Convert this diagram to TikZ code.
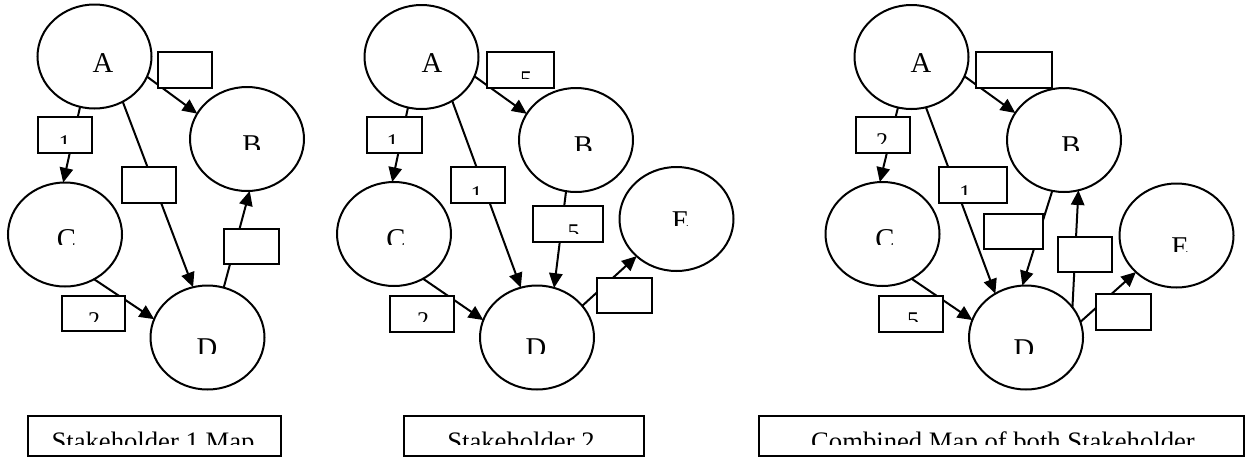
\documentclass[tikz,border=0pt]{standalone}
\usepackage{fontspec}
\setmainfont{Liberation Serif}
\usetikzlibrary{shapes.geometric,arrows.meta,fit}

\tikzset{
  px/.style={x=0.75pt,y=-0.75pt},
  stake/.style={ellipse,draw,line width=1.5pt,fill=white,minimum width=85.5pt,
    minimum height=78pt,inner sep=0pt,outer sep=0pt},
  wbox/.style={draw,line width=1.5pt,fill=white,inner sep=0pt,outer sep=0pt},
  link/.style={line width=1.5pt,-{Triangle[length=11pt,width=10pt]}},
  cut/.style={anchor=base,inner sep=0pt,outer sep=0pt},
  lettertxt/.style={font=\fontsize{21.5}{22}\selectfont},
  digittxt/.style={font=\fontsize{18}{18}\selectfont},
  titletxt/.style={font=\fontsize{20}{20}\selectfont},
}

% text whose lower part is cut off by a horizontal line
% #1 style, #2 name, #3 x, #4 baseline, #5 cut line, #6 text
\newcommand\cuttext[6]{%
  \begin{scope}
    \clip (#3-300,#4-40) rectangle (#3+300,#5);
    \node[cut,#1] (#2) at (#3,#4) {#6};
  \end{scope}}

\begin{document}
\begin{tikzpicture}[px]
\useasboundingbox (0,0) rectangle (1252,457);

% ---------- Stakeholder 1 ----------
\node[stake] (A1) at (94.5,56.5) {};
\node[stake] (B1) at (247,139) {};
\node[stake] (C1) at (65,234.5) {};
\node[stake] (D1) at (207.5,337.5) {};
\draw[link] (A1.-106) -- (C1.92);
\draw[link] (A1.-21) -- (B1.153);
\draw[link] (A1.-58) -- (D1.106);
\draw[link] (C1.-57) -- (D1.161);
\draw[link] (D1.72) -- (B1.-87);
\node[wbox,fit={(158,52) (212,88)}] (ab1) {};
\node[wbox,fit={(38,117) (92,153)}] (ac1) {};
\node[wbox,fit={(122,167) (176,203)}] (ad1) {};
\node[wbox,fit={(224,229) (279,264)}] (db1) {};
\node[wbox,fit={(62,296) (125,331)}] (cd1) {};
\node[wbox,fit={(28,416) (281,456)}] (title1) {};
\cuttext{lettertxt}{tA1}{103}{72}{90}{A}
\cuttext{lettertxt}{tB1}{252}{154}{149}{B}
\cuttext{lettertxt}{tC1}{66.5}{248}{244}{C}
\cuttext{lettertxt}{tD1}{207}{357}{353}{D}
\cuttext{digittxt}{tac1}{64.5}{151}{143}{1}
\cuttext{digittxt}{tcd1}{94}{328}{321}{2}
\cuttext{titletxt}{tt1}{153}{450}{444}{Stakeholder 1 Map}

% ---------- Stakeholder 2 ----------
\node[stake] (A2) at (421.5,57) {};
\node[stake] (B2) at (576,140) {};
\node[stake] (C2) at (394,234) {};
\node[stake] (D2) at (537,337.5) {};
\node[stake] (E2) at (676.5,219) {};
\draw[link] (A2.-105) -- (C2.92);
\draw[link] (A2.-20) -- (B2.152);
\draw[link] (A2.-55) -- (D2.108);
\draw[link] (B2.-101) -- (D2.71);
\draw[link] (C2.-57) -- (D2.162);
\draw[link] (D2.35) -- (E2.-137);
\node[wbox,fit={(487,52) (554,88)}] (ab2) {};
\node[wbox,fit={(367,117) (422,153)}] (ac2) {};
\node[wbox,fit={(451,167) (505,203)}] (ad2) {};
\node[wbox,fit={(533,206) (603,242)}] (bd2) {};
\node[wbox,fit={(390,296) (454,332)}] (cd2) {};
\node[wbox,fit={(597,278) (652,313)}] (de2) {};
\node[wbox,fit={(404,416) (644,456)}] (title2) {};
\cuttext{lettertxt}{tA2}{432}{72}{90}{A}
\cuttext{lettertxt}{tB2}{583.5}{155}{150}{B}
\cuttext{lettertxt}{tC2}{396}{248}{244}{C}
\cuttext{lettertxt}{tD2}{536}{357}{353}{D}
\cuttext{lettertxt}{tE2}{680.5}{230}{225}{E}
\cuttext{digittxt}{tab2}{526}{87}{78}{5}
\cuttext{digittxt}{tac2}{392.5}{150}{143}{1}
\cuttext{digittxt}{tad2}{476.5}{202}{194}{1}
\cuttext{digittxt}{tbd2}{573.5}{240}{233}{5}
\cuttext{digittxt}{tcd2}{423}{328}{321}{2}
\cuttext{titletxt}{tt2}{521}{450}{444}{Stakeholder 2}

% ---------- Combined map ----------
\node[stake] (A3) at (911.5,57) {};
\node[stake] (B3) at (1064,140) {};
\node[stake] (C3) at (882.5,234) {};
\node[stake] (D3) at (1026,337.5) {};
\node[stake] (E3) at (1176.5,235.5) {};
\draw[link] (A3.-105) -- (C3.93);
\draw[link] (A3.-20) -- (B3.151);
\draw[link] (A3.-74) -- (D3.125);
\draw[link] (B3.-103) -- (D3.94);
\draw[link] (D3.33) -- (B3.-74);
\draw[link] (C3.-57) -- (D3.162);
\draw[link] (D3.16) -- (E3.-138);
\node[wbox,fit={(976,52) (1052,88)}] (ab3) {};
\node[wbox,fit={(856,117) (910,153)}] (ac3) {};
\node[wbox,fit={(939,167) (1007,203)}] (ad3) {};
\node[wbox,fit={(984,214) (1043,249)}] (bd3) {};
\node[wbox,fit={(1058,237) (1112,272)}] (db3) {};
\node[wbox,fit={(879,296) (943,332)}] (cd3) {};
\node[wbox,fit={(1096,294) (1151,330)}] (de3) {};
\node[wbox,fit={(759,416) (1244,456)}] (title3) {};
\cuttext{lettertxt}{tA3}{921}{72}{90}{A}
\cuttext{lettertxt}{tB3}{1071}{155}{150}{B}
\cuttext{lettertxt}{tC3}{885}{248}{244}{C}
\cuttext{lettertxt}{tD3}{1024}{358}{353}{D}
\cuttext{lettertxt}{tE3}{1180}{256}{251}{E}
\cuttext{digittxt}{tac3}{882}{149}{143}{2}
\cuttext{digittxt}{tad3}{965}{201}{194}{1}
\cuttext{digittxt}{tcd3}{913}{328}{321}{5}
\cuttext{titletxt}{tt3}{1003}{450}{444}{Combined Map of both Stakeholder}
\end{tikzpicture}
\end{document}
